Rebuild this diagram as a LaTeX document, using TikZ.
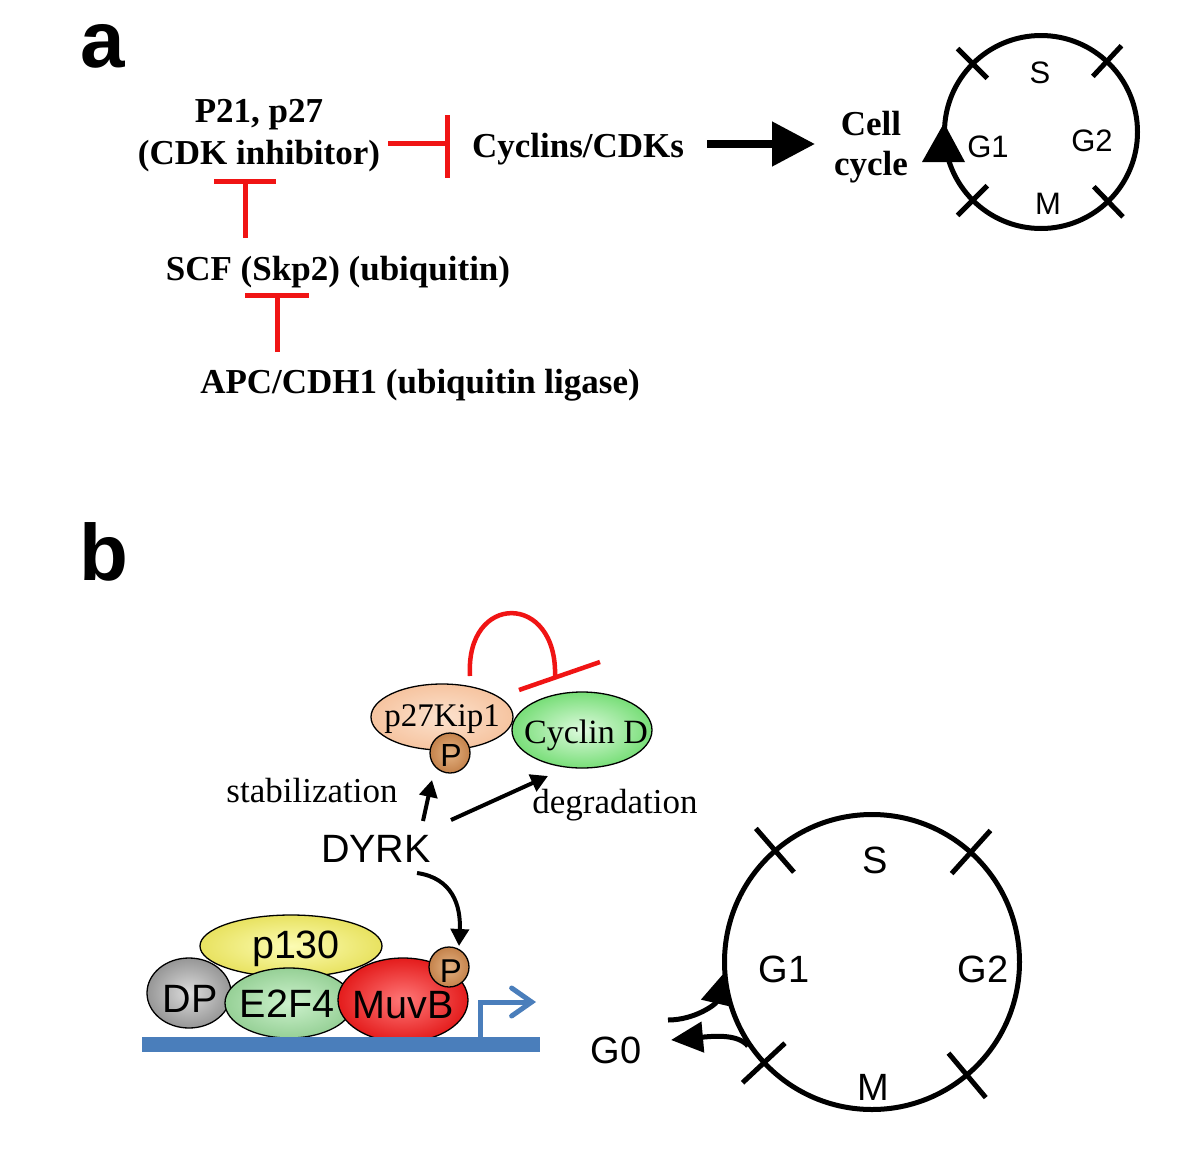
\documentclass[tikz,border=0pt]{standalone}
\usepackage{fontspec}
\setmainfont{Liberation Serif}
\setsansfont{Liberation Sans}
\usetikzlibrary{arrows.meta,shapes.geometric,calc}
\definecolor{inhred}{RGB}{240,20,20}
\definecolor{dnablue}{RGB}{74,126,187}
\begin{document}
\begin{tikzpicture}[x=1pt,y=-1pt,
  panellbl/.style={font=\sffamily\bfseries\fontsize{80}{90}\selectfont, inner sep=0pt, anchor=base},
  boldlbl/.style={font=\bfseries\fontsize{35}{42}\selectfont, inner sep=0pt, anchor=base},
  serlbl/.style={font=\fontsize{35}{42}\selectfont, inner sep=0pt, anchor=base},
  sanslbl/.style={font=\sffamily\fontsize{39.5}{44}\selectfont, inner sep=0pt, anchor=base},
  phaselbla/.style={font=\sffamily\fontsize{31}{36}\selectfont, inner sep=0pt, anchor=base},
  phaselblb/.style={font=\sffamily\fontsize{38}{44}\selectfont, inner sep=0pt, anchor=base},
  inh/.style={draw=inhred, line width=5pt},
  ticka/.style={line width=5pt},
  blob/.style={ellipse, draw=black, line width=1.3pt, inner sep=0pt},
  pcirc/.style={circle, draw=black, line width=1.3pt, inner sep=0pt, minimum size=40pt,
     inner color={rgb,255:red,228;green,178;blue,130}, outer color={rgb,255:red,196;green,130;blue,75}},
  darrow/.style={line width=4pt, -{Triangle[length=17pt,width=18pt]}},
]
\path[use as bounding box, fill=white] (0,0) rectangle (1200,1173);

% ---------------- panel a ----------------
\node[panellbl] (pa) at (103,67) {a};
\node[boldlbl] (p21) at (259,122) {P21, p27};
\node[boldlbl] (cdki) at (259,164) {(CDK inhibitor)};
\node[boldlbl] (cyc) at (578,157) {Cyclins/CDKs};
\node[boldlbl] (cell) at (871,135) {Cell};
\node[boldlbl] (cycle) at (871,175) {cycle};
\node[boldlbl] (scf) at (338,280) {SCF (Skp2) (ubiquitin)};
\node[boldlbl] (apc) at (420,393) {APC/CDH1 (ubiquitin ligase)};

% inhibition cdki -| cyclins
\coordinate (i1s) at (388,143);
\coordinate (i1e) at (447,143);
\coordinate (i1a) at (447,115);
\coordinate (i1b) at (447,178);
\draw[inh] (i1s) -- (i1e);
\draw[inh] (i1a) -- (i1b);
% scf -| cdki
\coordinate (i2s) at (245,238);
\coordinate (i2e) at (245,181);
\coordinate (i2a) at (214,181);
\coordinate (i2b) at (276,181);
\draw[inh] (i2s) -- (i2e);
\draw[inh] (i2a) -- (i2b);
% apc -| scf
\coordinate (i3s) at (277,352);
\coordinate (i3e) at (277,295);
\coordinate (i3a) at (245,295);
\coordinate (i3b) at (309,295);
\draw[inh] (i3s) -- (i3e);
\draw[inh] (i3a) -- (i3b);

% big arrow
\coordinate (ar1) at (707,144);
\coordinate (ar2) at (815,144);
\draw[line width=8pt, -{Triangle[length=43pt,width=43pt]}] (ar1) -- (ar2);

% cell cycle circle a
\node[circle, draw, line width=5pt, minimum size=193pt, inner sep=0pt] (cca) at (1041,132) {};
\foreach \ang in {225,313,135,46}
  \draw[ticka] ($(cca.center)+(\ang:76)$) -- ($(cca.center)+(\ang:118)$);
\fill (944,123) -- (965,162) -- (922,162) -- cycle;
\node[phaselbla] (sa) at (1040,83) {S};
\node[phaselbla] (g1a) at (988,157) {G1};
\node[phaselbla] (g2a) at (1092,151) {G2};
\node[phaselbla] (ma) at (1048,214) {M};

% ---------------- panel b ----------------
\node[panellbl] (pb) at (104,580) {b};

\node[blob, minimum width=142pt, minimum height=66pt,
  inner color={rgb,255:red,252;green,226;blue,206}, outer color={rgb,255:red,246;green,196;blue,160}] (p27) at (442,717) {};
\node[blob, minimum width=140pt, minimum height=76pt,
  inner color={rgb,255:red,222;green,250;blue,222}, outer color={rgb,255:red,120;green,222;blue,120}] (cycd) at (582,730) {};
\node[serlbl, font=\fontsize{33}{40}\selectfont] (p27t) at (442,726) {p27Kip1};
\node[serlbl, font=\fontsize{34}{40}\selectfont] (cycdt) at (586,743) {Cyclin D};
\node[pcirc, minimum size=40pt] (pp27) at (450,753) {};
\node[font=\sffamily\fontsize{32}{36}\selectfont, inner sep=0pt, anchor=base] (pp27t) at (451,766) {P};

% self-inhibition of p27 on cyclin D
\coordinate (arcS) at (470,676);
\coordinate (arcE) at (555,677);
\coordinate (barA) at (519,690);
\coordinate (barB) at (600,662);
\draw[draw=inhred, line width=4.5pt] (arcS) .. controls (465,592) and (558,592) .. (arcE);
\draw[inh, line width=4.5pt] (barA) -- (barB);

\node[serlbl] (stab) at (312,802) {stabilization};
\node[serlbl] (degr) at (615,813) {degradation};
\node[sanslbl] (dyrk) at (376,862) {DYRK};

\coordinate (st1) at (423,821);
\coordinate (st2) at (432,780);
\draw[darrow] (st1) -- (st2);
\coordinate (dg1) at (451,820);
\coordinate (dg2) at (548,776);
\draw[darrow] (dg1) -- (dg2);

% DREAM complex
\node[blob, minimum width=182pt, minimum height=62pt,
  inner color={rgb,255:red,252;green,252;blue,180}, outer color={rgb,255:red,232;green,226;blue,96}] (p130) at (291,946) {};
\node[blob, minimum width=84pt, minimum height=70pt,
  inner color={rgb,255:red,220;green,220;blue,220}, outer color={rgb,255:red,150;green,150;blue,150}] (dp) at (189,993) {};
\node[blob, minimum width=128pt, minimum height=70pt,
  inner color={rgb,255:red,205;green,242;blue,205}, outer color={rgb,255:red,150;green,208;blue,150}] (e2f4) at (289,1003) {};
\node[blob, minimum width=130pt, minimum height=84pt,
  inner color={rgb,255:red,255;green,120;blue,120}, outer color={rgb,255:red,228;green,28;blue,28}] (muvb) at (403,1000) {};
\node[pcirc] (pmuvb) at (449,967) {};

\node[sanslbl] (p130t) at (296,958) {p130};
\node[sanslbl] (dpt) at (190,1012) {DP};
\node[sanslbl] (e2f4t) at (287,1017) {E2F4};
\node[sanslbl] (muvbt) at (403,1018) {MuvB};
\node[font=\sffamily\fontsize{33}{36}\selectfont, inner sep=0pt, anchor=base] (pmuvbt) at (451,982) {P};

\coordinate (dy1) at (417,873);
\coordinate (dy2) at (459,946);
\draw[darrow] (dy1) .. controls (452,878) and (461,905) .. (dy2);

% DNA and promoter
\coordinate (dna1) at (142,1044);
\coordinate (dna2) at (540,1044);
\draw[dnablue, line width=15pt] (dna1) -- (dna2);
\coordinate (pr1) at (480,1040);
\coordinate (pr2) at (480,1002);
\coordinate (pr3) at (536,1002);
\draw[dnablue, line width=5pt, -{Straight Barb[length=20pt,width=28pt,line cap=round]}] (pr1) -- (pr2) -- (pr3);

% cell cycle circle b
\node[circle, draw, line width=5pt, minimum size=295pt, inner sep=0pt] (ccb) at (872,962) {};
\foreach \ang in {229,312,137,50}
  \draw[ticka] ($(ccb.center)+(\ang:119)$) -- ($(ccb.center)+(\ang:177)$);
\node[phaselblb] (sb) at (875,873) {S};
\node[phaselblb] (g1b) at (784,982) {G1};
\node[phaselblb] (g2b) at (983,982) {G2};
\node[phaselblb] (mb) at (873,1100) {M};
\node[phaselblb] (g0) at (616,1063) {G0};

\coordinate (g0a1) at (668,1020);
\coordinate (g0a2) at (723,974);
\draw[line width=5pt, -{Triangle[length=30pt,width=30pt]}] (g0a1) .. controls (695,1020) and (716,1004) .. (g0a2);
\coordinate (g0b1) at (748,1046);
\coordinate (g0b2) at (671,1040);
\draw[line width=5pt, -{Triangle[length=32pt,width=30pt]}] (g0b1) .. controls (738,1034) and (715,1036) .. (g0b2);
\end{tikzpicture}
\end{document}
